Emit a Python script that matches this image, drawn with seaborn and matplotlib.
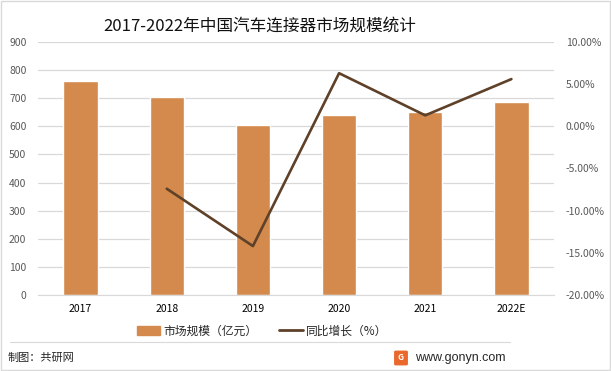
import numpy as np
import pandas as pd
import seaborn as sns
import matplotlib.pyplot as plt
from matplotlib.patches import Rectangle, FancyBboxPatch
from matplotlib.lines import Line2D
from matplotlib.ticker import FuncFormatter

years = ['2017', '2018', '2019', '2020', '2021', '2022E']
market = [761, 705, 605, 641, 651, 687]          # 亿元
growth = [np.nan, -7.4, -14.2, 6.3, 1.3, 5.6]    # %

BAR = '#D48A4C'
LINE = '#5E4128'
GRID = '#D9D9D9'
TICK = '#595959'

sns.set_style('white')
plt.rcParams['font.family'] = ['Noto Sans CJK SC', 'DejaVu Sans']

df = pd.DataFrame({'year': years, 'market': market, 'growth': growth})
df['pos'] = np.arange(len(df))

fig = plt.figure(figsize=[6.11, 3.71], dpi=100)
ax = fig.add_axes([0.0614, 0.2049, 0.8461, 0.6819])  # [left, bottom, width, height]

sns.barplot(data=df, x='year', y='market', color=BAR, width=0.4,
            saturation=1, ax=ax, zorder=2)
ax.set_xlim(-0.5, 5.5)
ax.set_ylim(0, 900)
ax.set_yticks(range(0, 1000, 100))
ax.grid(True, axis='y', color=GRID, linewidth=0.9, zorder=0)
ax.set_axisbelow(True)
for b in ['top', 'right', 'left']:
    ax.spines[b].set_visible(False)
ax.spines['bottom'].set_color(GRID)
ax.set_xlabel('')
ax.set_ylabel('')
ax.tick_params(axis='y', length=0, pad=8, labelsize=7.5, labelcolor=TICK)
ax.tick_params(axis='x', length=0, pad=6.5, labelsize=7.5, labelcolor='#000000')

ax2 = ax.twinx()
sns.lineplot(data=df.dropna(), x='pos', y='growth', color=LINE, linewidth=1.9,
             ax=ax2, zorder=3)
ax2.set_ylim(-20, 10)
ax2.set_yticks(range(-20, 15, 5))
ax2.yaxis.set_major_formatter(FuncFormatter(lambda v, p: f'{v:.2f}%'))
ax2.set_xlim(-0.5, 5.5)
for b in ['top', 'right', 'left', 'bottom']:
    ax2.spines[b].set_visible(False)
ax2.set_xlabel('')
ax2.set_ylabel('')
ax2.tick_params(axis='y', length=0, pad=8, labelsize=7.5, labelcolor=TICK)

# title
fig.text(260 / 611, 1 - 26 / 371, '2017-2022年中国汽车连接器市场规模统计',
         ha='center', va='center', fontsize=12, color='#111111')

# legend
handles = [Rectangle((0, 0), 1, 1, color=BAR),
           Line2D([0], [0], color=LINE, linewidth=2)]
fig.legend(handles, ['市场规模（亿元）', '同比增长（%）'],
           loc='center', bbox_to_anchor=(262 / 611, 1 - 331 / 371),
           ncol=2, frameon=False, fontsize=8.5, handlelength=2.0,
           handletextpad=0.3, columnspacing=1.8)

# footer
fig.add_artist(Line2D([10 / 611, 510 / 611], [1 - 342 / 371] * 2,
                      color=GRID, linewidth=0.8))
fig.text(8 / 611, 1 - 358 / 371, '制图：共研网', ha='left', va='center',
         fontsize=8, color='#262626')
fig.add_artist(FancyBboxPatch((396 / 611, 1 - 364 / 371), 10 / 611, 12 / 371,
                              boxstyle='round,pad=0.002', color='#E9692C',
                              transform=fig.transFigure))
fig.text(401 / 611, 1 - 358 / 371, 'G', ha='center', va='center',
         fontsize=6, color='white', fontweight='bold')
fig.text(415 / 611, 1 - 358 / 371, 'www.gonyn.com', ha='left', va='center',
         fontsize=9, color='#262626', family='Liberation Sans')

# outer frame
fig.add_artist(Rectangle((0.002, 0.003), 0.996, 0.994, fill=False,
                         edgecolor=GRID, linewidth=1,
                         transform=fig.transFigure))

plt.savefig('out.png', dpi=100)
plt.close()
